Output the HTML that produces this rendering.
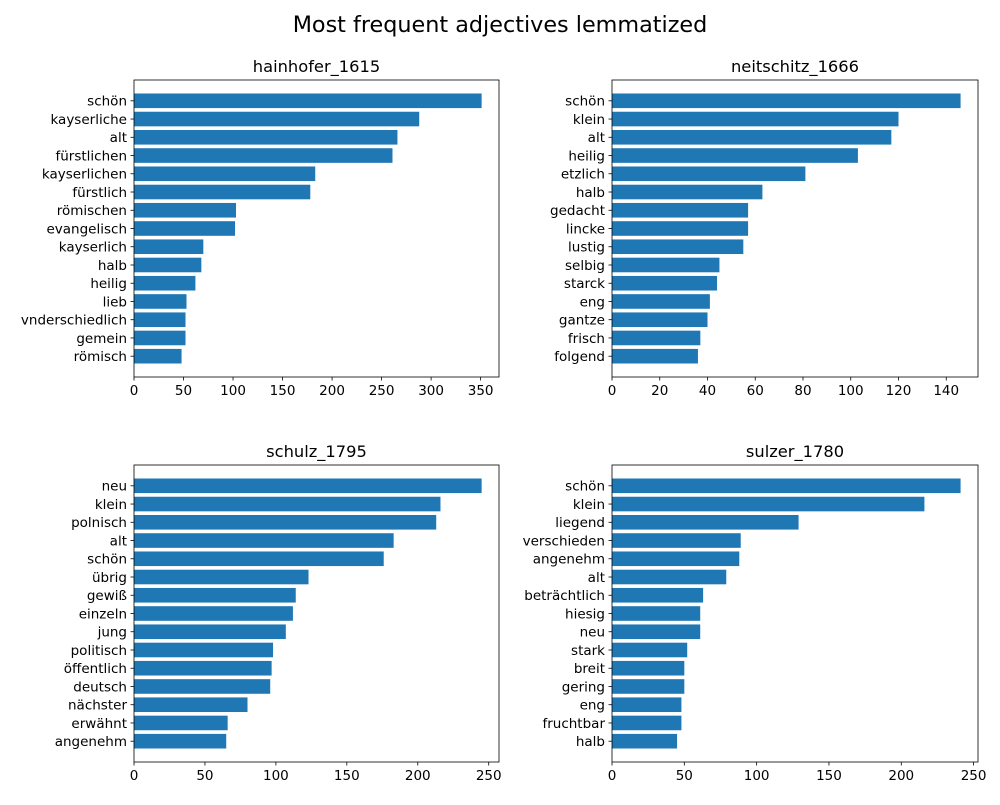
<!DOCTYPE html>
<html><head><meta charset="utf-8"><style>
html,body{margin:0;padding:0;background:#fff;}
svg text{font-family:"DejaVu Sans","Liberation Sans",sans-serif;fill:#000;}
</style></head><body>
<svg id="fig" width="1000" height="800" xmlns="http://www.w3.org/2000/svg">
<rect width="1000" height="800" fill="#fff"/>
<text x="500" y="32" text-anchor="middle" font-size="22.3">Most frequent adjectives lemmatized</text>
</svg>
<script>
const titles = ["hainhofer_1615","neitschitz_1666","schulz_1795","sulzer_1780"];
const labels1 = ["schön","kayserliche","alt","fürstlichen","kayserlichen","fürstlich","römischen","evangelisch","kayserlich","halb","heilig","lieb","vnderschiedlich","gemein","römisch"];
const values1 = [351,288,266,261,183,178,103,102,70,68,62,53,52,52,48];
const labels2 = ["schön","klein","alt","heilig","etzlich","halb","gedacht","lincke","lustig","selbig","starck","eng","gantze","frisch","folgend"];
const values2 = [146,120,117,103,81,63,57,57,55,45,44,41,40,37,36];
const labels3 = ["neu","klein","polnisch","alt","schön","übrig","gewiß","einzeln","jung","politisch","öffentlich","deutsch","nächster","erwähnt","angenehm"];
const values3 = [245,216,213,183,176,123,114,112,107,98,97,96,80,66,65];
const labels4 = ["schön","klein","liegend","verschieden","angenehm","alt","beträchtlich","hiesig","neu","stark","breit","gering","eng","fruchtbar","halb"];
const values4 = [241,216,129,89,88,79,63,61,61,52,50,50,48,48,45];
const tickSteps = [50,20,50,50];

const NS="http://www.w3.org/2000/svg";
const svg=document.getElementById('fig');
function mk(tag,attrs,parent){const e=document.createElementNS(NS,tag);for(const k in attrs)e.setAttribute(k,attrs[k]);(parent||svg).appendChild(e);return e;}
const boxes=[[134,80,499,377],[612,80,978,377],[134,465,499,762],[612,465,978,762]];
const L=[labels1,labels2,labels3,labels4], V=[values1,values2,values3,values4];
for(let p=0;p<4;p++){
  const [x0,y0,x1,y1]=boxes[p]; const labs=L[p], vals=V[p]; const n=vals.length;
  const g=mk('g',{});
  
  
  const xmax=Math.max(...vals)*1.05;
  const xs=v=>x0+v/xmax*(x1-x0);
  const ylo=-0.4-0.74, yhi=n-1+0.4+0.74;
  const ys=i=>y0+(i-ylo)/(yhi-ylo)*(y1-y0);
  const t=mk('text',{x:(x0+x1)/2,y:y0-8,'text-anchor':'middle','font-size':'16.3'},g);
  t.textContent=titles[p];
  
  
  for(let i=0;i<n;i++){
    const r=mk('rect',{x:xs(0),y:ys(i-0.4),width:xs(vals[i])-xs(0),height:ys(i+0.4)-ys(i-0.4),fill:'#1f77b4'},g);
    
    
    const yy=ys(i);
    mk('line',{x1:x0-3.5,x2:x0,y1:yy,y2:yy,stroke:'#000','stroke-width':0.8},g);
    const tl=mk('text',{x:x0-7,y:yy+4.8,'text-anchor':'end','font-size':'13.5'},g);
    tl.textContent=labs[i];
    
    
  }
  const st=tickSteps[p];
  for(let v=0;v<=xmax;v+=st){
    const xx=xs(v);
    mk('line',{x1:xx,x2:xx,y1:y1,y2:y1+3.5,stroke:'#000','stroke-width':0.8},g);
    const tx=mk('text',{x:xx,y:y1+18,'text-anchor':'middle','font-size':'13.5'},g);
    tx.textContent=v;
    
    
  }
  const fr=mk('rect',{x:x0,y:y0,width:x1-x0,height:y1-y0,fill:'none',stroke:'#000','stroke-width':0.8},g);
  
  
}
</script>
</body></html>
